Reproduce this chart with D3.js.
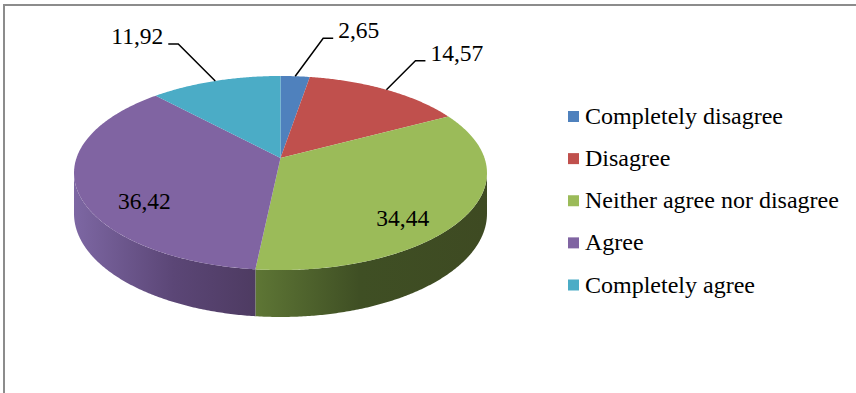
<!DOCTYPE html>
<html>
<head>
<meta charset="utf-8">
<script src="https://cdn.jsdelivr.net/npm/d3@7"></script>
<style>
  html, body { margin: 0; padding: 0; background: #fff; }
  svg { display: block; }
  text { font-family: "Liberation Serif", "Times New Roman", serif; fill: #000; }
</style>
</head>
<body>
<svg id="chart" width="856" height="393"></svg>
<script>
// Survey answers (percent of respondents)
const categories = ["Completely disagree", "Disagree", "Neither agree nor disagree", "Agree", "Completely agree"];
const values = [2.65, 14.57, 34.44, 36.42, 11.92];
const labels = ["2,65", "14,57", "34,44", "36,42", "11,92"];
const colors = ["#4F81BD", "#C0504D", "#9BBB59", "#8064A2", "#4BACC6"];

const svg = d3.select("#chart");
const W = 856, H = 393;

// Frame
svg.append("path")
  .attr("d", `M4,${H} L4,5 L${W},5`)
  .attr("fill", "none")
  .attr("stroke", "#8c8c8c")
  .attr("stroke-width", 2);

// 3D pie projection: unit disc seen with perspective tilt
const cx = 280.5, cy = 158, R = 204, S = 94.7, k = 0.1547, depth = 39.7;
function proj(theta, r, z) {
  const u = r * Math.sin(theta), v = r * Math.cos(theta);
  const w = 1 + k * v;
  return [cx + R * u / w, cy - S * v / w + (z || 0) / w];
}
function arcPoints(a0, a1, z) {
  const n = Math.max(2, Math.ceil((a1 - a0) / (Math.PI / 360)));
  const pts = [];
  for (let i = 0; i <= n; i++) pts.push(proj(a0 + (a1 - a0) * i / n, 1, z));
  return pts;
}
const line = d3.line();

const pie = d3.pie().sort(null).value(d => d)(values);

// Visible outer wall lies between the two silhouette angles (front half)
const silR = Math.acos(-k), silL = 2 * Math.PI - Math.acos(-k);

const defs = svg.append("defs");
const sideGrad = [
  null, null,
  { id: "g-neither", stops: [[0, "#5e7635"], [0.45, "#3f4f24"], [1, "#3e4a22"]] },
  { id: "g-agree", stops: [[0, "#7d67a3"], [0.55, "#5b4676"], [1, "#4e3b62"]] },
  null
];

const sides = svg.append("g");
pie.forEach((p, i) => {
  const a0 = Math.max(p.startAngle, silR), a1 = Math.min(p.endAngle, silL);
  if (a1 <= a0) return;
  const top = arcPoints(a0, a1, 0);
  const bot = arcPoints(a0, a1, depth).reverse();
  const xs = top.concat(bot).map(d => d[0]);
  let fill = d3.color(colors[i]).darker(1.2);
  if (sideGrad[i]) {
    const g = defs.append("linearGradient").attr("id", sideGrad[i].id)
      .attr("gradientUnits", "userSpaceOnUse")
      .attr("x1", d3.min(xs)).attr("x2", d3.max(xs)).attr("y1", 0).attr("y2", 0);
    sideGrad[i].stops.forEach(s => g.append("stop").attr("offset", s[0]).attr("stop-color", s[1]));
    fill = `url(#${sideGrad[i].id})`;
  }
  sides.append("path")
    .attr("d", line(top.concat(bot)) + "Z")
    .attr("fill", fill);
});

// Top faces
const tops = svg.append("g");
pie.forEach((p, i) => {
  const pts = [proj(0, 0, 0)].concat(arcPoints(p.startAngle, p.endAngle, 0));
  tops.append("path")
    .attr("d", line(pts) + "Z")
    .attr("fill", colors[i]);
});

// Data labels: large slices inside, small ones outside with leader lines
const leaderBends = [[28, -38], [29, -29], null, null, [-37, -37]];
const lbl = svg.append("g").style("font-size", "23.5px");
pie.forEach((p, i) => {
  const mid = (p.startAngle + p.endAngle) / 2;
  if (!leaderBends[i]) {
    const c = proj(mid, 0.68, 0);
    lbl.append("text").attr("x", c[0]).attr("y", c[1] + 29.5)
      .attr("text-anchor", "middle").text(labels[i]);
    return;
  }
  const e = proj(mid, 1, 0);
  const b = [e[0] + leaderBends[i][0], e[1] + leaderBends[i][1]];
  const dir = leaderBends[i][0] > 0 ? 1 : -1;
  const h = [b[0] + dir * 10, b[1]];
  lbl.append("path").attr("d", line([e, b, h]))
    .attr("fill", "none").attr("stroke", "#000").attr("stroke-width", 1.5);
  lbl.append("text").attr("x", h[0] + dir * 5).attr("y", b[1])
    .attr("text-anchor", dir > 0 ? "start" : "end").text(labels[i]);
});

// Legend
const y = d3.scalePoint().domain(categories).range([116.5, 285]);
const leg = svg.append("g").style("font-size", "24px");
categories.forEach((c, i) => {
  leg.append("rect").attr("x", 568).attr("y", y(c) - 5.5).attr("width", 11).attr("height", 11)
    .attr("fill", colors[i]);
  leg.append("text").attr("x", 585).attr("y", y(c) + 7.5).text(c);
});
</script>
</body>
</html>
